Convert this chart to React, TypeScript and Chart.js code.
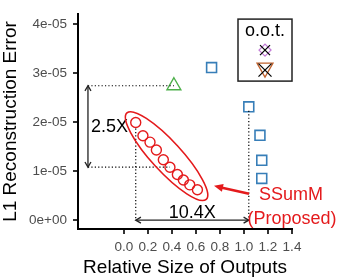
import { useEffect, useRef } from "react";
import { Chart, registerables } from "chart.js";

Chart.register(...registerables);

// ---- data ----
const ssummX = [0.098, 0.158, 0.217, 0.27, 0.328, 0.383, 0.445, 0.495, 0.548, 0.612];
const ssummY = [1.99e-5, 1.72e-5, 1.59e-5, 1.43e-5, 1.23e-5, 1.08e-5, 0.93e-5, 0.82e-5, 0.72e-5, 0.62e-5];
const squareX = [0.73, 1.04, 1.133, 1.148, 1.148];
const squareY = [3.11e-5, 2.31e-5, 1.73e-5, 1.22e-5, 0.85e-5];
const triangleX = [0.416];
const triangleY = [2.74e-5];

const xTicks = [0, 0.2, 0.4, 0.6, 0.8, 1.0, 1.2, 1.4];
const xTickLabels = ["0.0", "0.2", "0.4", "0.6", "0.8", "1.0", "1.2", "1.4"];
const yTicks = [0, 1e-5, 2e-5, 3e-5, 4e-5];
const yTickLabels = ["0e+00", "1e-05", "2e-05", "3e-05", "4e-05"];

const ratioLeftLabel = "2.5X";
const ratioBottomLabel = "10.4X";
const calloutLines = ["SSumM", "(Proposed)"];
const legendTitle = "o.o.t.";

// annotation anchors (data units)
const ratioArrowX = -0.3;
const calloutLabelX = 1.4;
const calloutLabelY = 0.54e-5;
const calloutTipX = 0.75;
const calloutTipY = 0.7e-5;

const FONT = "'Liberation Sans', Arial, sans-serif";
const RED = "#e41a1c";
const BLUE = "#377eb8";
const GREEN = "#4daf4a";
const PURPLE = "#c27bd6";
const BROWN = "#c0632e";

function openHead(ctx: CanvasRenderingContext2D, x1: number, y1: number, x2: number, y2: number, len: number) {
  const a = Math.atan2(y2 - y1, x2 - x1);
  const spread = Math.PI / 6;
  ctx.beginPath();
  ctx.moveTo(x2 - len * Math.cos(a - spread), y2 - len * Math.sin(a - spread));
  ctx.lineTo(x2, y2);
  ctx.lineTo(x2 - len * Math.cos(a + spread), y2 - len * Math.sin(a + spread));
  ctx.stroke();
}

function doubleArrow(ctx: CanvasRenderingContext2D, x1: number, y1: number, x2: number, y2: number) {
  ctx.beginPath();
  ctx.moveTo(x1, y1);
  ctx.lineTo(x2, y2);
  ctx.stroke();
  openHead(ctx, x1, y1, x2, y2, 6);
  openHead(ctx, x2, y2, x1, y1, 6);
}

function seg(ctx: CanvasRenderingContext2D, x1: number, y1: number, x2: number, y2: number) {
  ctx.beginPath();
  ctx.moveTo(x1, y1);
  ctx.lineTo(x2, y2);
  ctx.stroke();
}

const annotationPlugin = {
  id: "annotations",
  afterDatasetsDraw(chart: any) {
    const ctx: CanvasRenderingContext2D = chart.ctx;
    const xs = chart.scales.x;
    const ys = chart.scales.y;
    const px = (v: number) => xs.getPixelForValue(v);
    const py = (v: number) => ys.getPixelForValue(v);
    const area = chart.chartArea;
    ctx.save();

    // dotted guide lines
    ctx.strokeStyle = "#000";
    ctx.lineWidth = 1.2;
    ctx.setLineDash([1.2, 2.2]);
    seg(ctx, px(ratioArrowX), py(triangleY[0]), px(triangleX[0]), py(triangleY[0]));
    seg(ctx, px(ratioArrowX), py(ssummY[5]), px(ssummX[5]), py(ssummY[5]));
    seg(ctx, px(ssummX[0]), py(ssummY[0]) + 6, px(ssummX[0]), py(0));
    seg(ctx, px(squareX[1]), py(squareY[1]) + 4, px(squareX[1]), py(0));
    ctx.setLineDash([]);

    // double arrows
    ctx.strokeStyle = "#222";
    ctx.lineWidth = 1.3;
    doubleArrow(ctx, px(ratioArrowX), py(triangleY[0]), px(ratioArrowX), py(ssummY[5]));
    doubleArrow(ctx, px(ssummX[0]), py(0), px(squareX[1]), py(0));

    // ratio labels
    ctx.fillStyle = "#000";
    ctx.font = `18px ${FONT}`;
    ctx.textBaseline = "middle";
    ctx.textAlign = "left";
    ctx.fillText(ratioLeftLabel, px(ratioArrowX) + 3, (py(triangleY[0]) + py(ssummY[5])) / 2 + 1);
    ctx.textAlign = "center";
    ctx.textBaseline = "alphabetic";
    ctx.fillText(ratioBottomLabel, (px(ssummX[0]) + px(squareX[1])) / 2, py(0) - 2.5);

    // ellipse around SSumM points
    const n = ssummX.length;
    const ax = px(ssummX[0]), ay = py(ssummY[0]);
    const bx = px(ssummX[n - 1]), by = py(ssummY[n - 1]);
    const cx = (ax + bx) / 2, cy = (ay + by) / 2;
    const ang = Math.atan2(by - ay, bx - ax);
    const semiMajor = Math.hypot(bx - ax, by - ay) / 2 + 13;
    ctx.strokeStyle = RED;
    ctx.lineWidth = 1.6;
    ctx.beginPath();
    ctx.ellipse(cx, cy, semiMajor, 15, ang, 0, Math.PI * 2);
    ctx.stroke();

    // callout arrow
    const lx = px(calloutLabelX), ly = py(calloutLabelY);
    const tx = px(calloutTipX), ty = py(calloutTipY);
    const sx = lx - 43, sy = ly;
    const a = Math.atan2(ty - sy, tx - sx);
    const hl = 9, hw = 4;
    ctx.lineWidth = 2.6;
    ctx.beginPath();
    ctx.moveTo(sx, sy);
    ctx.lineTo(tx - hl * 0.8 * Math.cos(a), ty - hl * 0.8 * Math.sin(a));
    ctx.stroke();
    ctx.fillStyle = RED;
    ctx.beginPath();
    ctx.moveTo(tx, ty);
    ctx.lineTo(tx - hl * Math.cos(a) + hw * Math.sin(a), ty - hl * Math.sin(a) - hw * Math.cos(a));
    ctx.lineTo(tx - hl * Math.cos(a) - hw * Math.sin(a), ty - hl * Math.sin(a) + hw * Math.cos(a));
    ctx.closePath();
    ctx.fill();

    ctx.font = `18px ${FONT}`;
    ctx.textAlign = "center";
    ctx.textBaseline = "middle";
    ctx.fillText(calloutLines[0], lx - 1, ly + 1);
    ctx.fillText(calloutLines[1], lx, ly + 25);

    // legend box (o.o.t.)
    const bw = 54, bh = 62;
    const bxL = area.right - bw, byT = area.top + 5;
    ctx.fillStyle = "#fff";
    ctx.fillRect(bxL, byT, bw, bh);
    ctx.strokeStyle = "#222";
    ctx.lineWidth = 1.5;
    ctx.strokeRect(bxL, byT, bw, bh);
    const mx = bxL + bw / 2;
    ctx.fillStyle = "#000";
    ctx.font = `18px ${FONT}`;
    ctx.textAlign = "center";
    ctx.textBaseline = "alphabetic";
    ctx.fillText(legendTitle, mx, byT + 16.5);

    // purple diamond with cross
    const d1y = byT + 31;
    ctx.strokeStyle = PURPLE;
    ctx.lineWidth = 1.3;
    ctx.beginPath();
    ctx.moveTo(mx - 6, d1y);
    ctx.lineTo(mx, d1y - 6);
    ctx.lineTo(mx + 6, d1y);
    ctx.lineTo(mx, d1y + 6);
    ctx.closePath();
    ctx.stroke();
    ctx.strokeStyle = "#000";
    seg(ctx, mx - 5, d1y - 5, mx + 5, d1y + 5);
    seg(ctx, mx - 5, d1y + 5, mx + 5, d1y - 5);

    // brown inverted triangle with cross
    const t1y = byT + 51;
    ctx.strokeStyle = BROWN;
    ctx.beginPath();
    ctx.moveTo(mx - 8, t1y - 7);
    ctx.lineTo(mx + 8, t1y - 7);
    ctx.lineTo(mx, t1y + 7);
    ctx.closePath();
    ctx.stroke();
    ctx.strokeStyle = "#000";
    seg(ctx, mx - 6.5, t1y - 6.5, mx + 6.5, t1y + 6.5);
    seg(ctx, mx - 6.5, t1y + 6.5, mx + 6.5, t1y - 6.5);

    ctx.restore();
  },
};

export default function App() {
  const ref = useRef<HTMLCanvasElement | null>(null);
  useEffect(() => {
    if (!ref.current) return;
    const chart = new Chart(ref.current, {
      type: "scatter",
      data: {
        datasets: [
          {
            label: "SSumM",
            data: ssummX.map((x, i) => ({ x, y: ssummY[i] })),
            pointStyle: "circle",
            pointRadius: 5,
            pointBorderWidth: 1.4,
            borderColor: RED,
            backgroundColor: "rgba(0,0,0,0)",
          },
          {
            label: "Baselines",
            data: squareX.map((x, i) => ({ x, y: squareY[i] })),
            pointStyle: "rect",
            pointRadius: 7,
            pointBorderWidth: 1.6,
            borderColor: BLUE,
            backgroundColor: "rgba(0,0,0,0)",
          },
          {
            label: "Other",
            data: triangleX.map((x, i) => ({ x, y: triangleY[i] })),
            pointStyle: "triangle",
            pointRadius: 8,
            pointBorderWidth: 1.4,
            borderColor: GREEN,
            backgroundColor: "rgba(0,0,0,0)",
          },
        ],
      },
      options: {
        responsive: false,
        animation: false,
        devicePixelRatio: 1,
        layout: { padding: { left: 0, right: 57, top: 10, bottom: 0 } },
        plugins: { legend: { display: false }, tooltip: { enabled: false } },
        scales: {
          x: {
            type: "linear",
            min: -0.383,
            max: 1.4,
            afterBuildTicks: (axis: any) => {
              axis.ticks = xTicks.map((v) => ({ value: v }));
            },
            afterFit: (s: any) => {
              s.height = 51;
            },
            grid: { display: true, drawOnChartArea: false, drawTicks: true, tickLength: 5, color: "#333", lineWidth: 2 },
            border: { display: true, color: "#000", width: 2 },
            ticks: {
              autoSkip: false,
              maxRotation: 0,
              padding: 5,
              color: "#4d4d4d",
              font: { family: FONT, size: 13.5 },
              callback: (_v: any, i: number) => xTickLabels[i],
            },
            title: {
              display: true,
              text: "Relative Size of Outputs",
              color: "#000",
              font: { family: FONT, size: 19, lineHeight: 1 },
              padding: { top: 0, bottom: 2.5 },
            },
          },
          y: {
            type: "linear",
            min: -0.18e-5,
            max: 4.2e-5,
            afterBuildTicks: (axis: any) => {
              axis.ticks = yTicks.map((v) => ({ value: v }));
            },
            afterFit: (s: any) => {
              s.width = 78;
            },
            grid: { display: true, drawOnChartArea: false, drawTicks: true, tickLength: 5, color: "#333", lineWidth: 2 },
            border: { display: true, color: "#000", width: 2 },
            ticks: {
              autoSkip: false,
              padding: 6,
              color: "#4d4d4d",
              font: { family: FONT, size: 13.5 },
              callback: (_v: any, i: number) => yTickLabels[i],
            },
            title: {
              display: true,
              text: "L1 Reconstruction Error",
              color: "#000",
              font: { family: FONT, size: 19, lineHeight: 1 },
              padding: { top: 1, bottom: 0 },
            },
          },
        },
      },
      plugins: [annotationPlugin],
    } as any);
    return () => chart.destroy();
  }, []);
  return (
    <div style={{ position: "fixed", left: 0, top: 0, width: 349, height: 280, background: "#fff" }}>
      <canvas ref={ref} width={349} height={280} />
    </div>
  );
}
